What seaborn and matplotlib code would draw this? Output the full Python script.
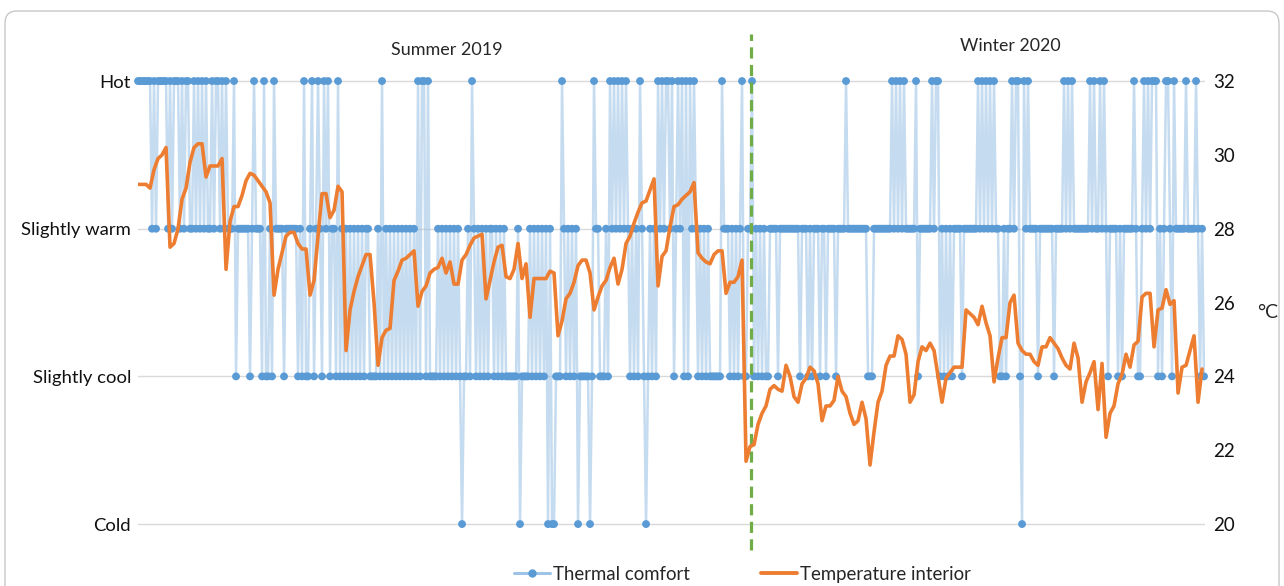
import numpy as np
import pandas as pd
import matplotlib
matplotlib.use("Agg")
import matplotlib.pyplot as plt
from matplotlib.lines import Line2D
from matplotlib.patches import FancyBboxPatch
import seaborn as sns

# Thermal comfort vote per sample: H = Hot, W = Slightly warm, C = Slightly cool, X = Cold
comfort_codes = (
    "HHHHH" "HHWHW" "HHHHH" "WHWHH" "HWHWH" "HWWHW" "HWHWH" "WWHWH" "HWHWH" "WWWHC"
    "WWWWW" "WCWHW" "WWCHC" "CWCHW" "WWWCW" "WWWWW" "CWCHC" "CWHCW" "HWCHW" "HCWWC"
    "HCWCW" "CWCWC" "WCWCW" "WCCCC" "WCHCW" "CWCWC" "WCWCW" "CWCWC" "HCHHC" "HCCCC"
    "WCWCW" "CWCWC" "WCXCC" "WCHWC" "WCWCW" "CWWCW" "CWCWC" "CCCCC" "WXCCC" "CWCWC"
    "WCWCW" "XWXXC" "CCHWC" "WCWCW" "XCCCC" "CXCHW" "WCCCW" "CHWHW" "HWHWH" "WCWCW"
    "CHWCX" "CWCWC" "HWHWH" "HWHCW" "HWHCH" "CHWHW" "CWCWC" "WCCCC" "CCHWW" "WCWCW"
    "CWHCC" "WWHCW" "CWCWC" "CWWWW" "CWWWW" "WWWWW" "WCWWW" "CWCWW" "WCWWC" "WWWWC"
    "WWWWH" "WWWWW" "WWWWW" "CCCWW" "WWWWW" "WWHWH" "WHWHW" "WWWWH" "CWWWW" "WWHWH"
    "HCWCW" "CWCWW" "WWCWW" "WWWWW" "HWHWH" "WHWHW" "WCCWC" "WWHWH" "HCXHW" "HWWWW"
    "CWWWW" "WWWCW" "WWWHW" "HWHWW" "WWWWW" "WHWHW" "WHWHW" "CWWWW" "CWCWW" "WWWHW"
    "CCWHW" "HWHHH" "CWCWH" "HWCHW" "WWWWH" "WWWWH" "WCWC"
)
comfort_levels = {"X": 0, "C": 1, "W": 2, "H": 3}
comfort_labels = ["Cold", "Slightly cool", "Slightly warm", "Hot"]

# Interior temperature (°C), logged at every second comfort sample
temperature = [
    29.2, 29.2, 29.2, 29.1, 29.6, 29.9, 30.0, 30.2, 27.5, 27.6,
    28.0, 28.8, 29.1, 29.8, 30.2, 30.3, 30.3, 29.4, 29.7, 29.7,
    29.7, 29.9, 26.9, 28.2, 28.6, 28.6, 28.9, 29.3, 29.5, 29.45,
    29.3, 29.15, 29.0, 28.7, 26.2, 26.9, 27.35, 27.8, 27.9, 27.9,
    27.6, 27.45, 27.45, 26.2, 26.6, 27.8, 28.95, 28.95, 28.3, 28.5,
    29.15, 29.0, 24.7, 25.8, 26.3, 26.7, 27.0, 27.3, 27.3, 26.0,
    24.3, 25.05, 25.25, 25.3, 26.6, 26.85, 27.15, 27.2, 27.3, 27.4,
    25.9, 26.3, 26.45, 26.8, 26.9, 26.95, 27.2, 26.8, 27.1, 26.5,
    26.5, 27.15, 27.3, 27.55, 27.75, 27.8, 27.85, 26.1, 26.6, 27.1,
    27.5, 27.55, 26.7, 26.65, 26.9, 27.6, 26.65, 27.05, 25.6, 26.65,
    26.65, 26.65, 26.65, 26.85, 26.8, 25.1, 25.5, 26.1, 26.25, 26.55,
    27.0, 27.15, 27.15, 26.8, 25.8, 26.15, 26.45, 26.6, 26.95, 27.2,
    26.5, 26.9, 27.6, 27.8, 28.15, 28.45, 28.7, 28.75, 29.05, 29.35,
    26.45, 27.25, 27.4, 28.05, 28.6, 28.65, 28.8, 28.9, 29.0, 29.25,
    27.35, 27.2, 27.1, 27.05, 27.3, 27.4, 27.4, 26.25, 26.55, 26.55,
    26.7, 27.15, 21.7, 22.1, 22.15, 22.7, 23.0, 23.2, 23.65, 23.75,
    23.65, 23.6, 24.3, 24.0, 23.45, 23.3, 23.8, 23.95, 24.25, 24.15,
    23.8, 22.8, 23.2, 23.2, 23.35, 24.0, 23.6, 23.45, 23.0, 22.7,
    22.8, 23.3, 22.85, 21.6, 22.5, 23.3, 23.6, 24.3, 24.55, 24.55,
    25.1, 25.0, 24.6, 23.3, 23.5, 24.4, 24.8, 24.7, 24.9, 24.7,
    24.0, 23.3, 23.95, 24.1, 24.25, 24.25, 24.25, 25.8, 25.7, 25.6,
    25.4, 25.9, 25.45, 25.1, 23.85, 24.5, 25.05, 25.05, 26.0, 26.2,
    24.9, 24.7, 24.6, 24.6, 24.4, 24.3, 24.8, 24.8, 25.05, 24.9,
    24.75, 24.5, 24.3, 24.2, 24.9, 24.5, 23.3, 23.85, 24.1, 24.4,
    23.1, 24.35, 22.35, 23.0, 23.2, 23.8, 24.05, 24.6, 24.25, 24.85,
    24.95, 26.15, 26.25, 26.25, 24.8, 25.8, 25.85, 26.35, 25.95, 26.05,
    23.55, 24.25, 24.3, 24.7, 25.1, 23.3, 24.2,
]
temp_ticks = [20, 22, 24, 26, 28, 30, 32]

season_labels = ["Summer 2019", "Winter 2020"]
season_break = 306.5  # sample where winter measurements start

comfort_df = pd.DataFrame({
    "sample": np.arange(len(comfort_codes)),
    "comfort": [comfort_levels[c] for c in comfort_codes],
})
temp_df = pd.DataFrame({
    "sample": np.arange(0, 2 * len(temperature), 2),
    "temp": temperature,
})

sns.set_style("white")
plt.rcParams["font.family"] = ["Lato", "DejaVu Sans"]

fig = plt.figure(figsize=(12.84, 5.86), dpi=100)
ax = fig.add_axes([0.1075, 0.0742, 0.831, 0.819])
ax2 = ax.twinx()

# thermal comfort: pale connecting line + dots
sns.lineplot(data=comfort_df, x="sample", y="comfort", ax=ax, color="#9dc3e6",
             alpha=0.6, lw=1.8, estimator=None, zorder=2)
sns.scatterplot(data=comfort_df, x="sample", y="comfort", ax=ax, color="#5b9bd5",
                s=32, edgecolor="none", zorder=3, clip_on=False)

# interior temperature
sns.lineplot(data=temp_df, x="sample", y="temp", ax=ax2, color="#ed7d31",
             lw=2.6, estimator=None)

ax.set_xlim(0, len(comfort_codes) - 0.5)
ax.set_ylim(-0.125, 3.125)
ax2.set_ylim(19.5, 32.5)

ax.set_yticks(range(4))
ax.set_yticklabels(comfort_labels)
ax2.set_yticks(temp_ticks)
ax.yaxis.grid(True, color="#d9d9d9", lw=1)
ax.set_axisbelow(True)

for a in (ax, ax2):
    a.set_xlabel("")
    a.set_ylabel("")
    a.set_xticks([])
    for s in a.spines.values():
        s.set_visible(False)
ax.tick_params(axis="y", length=0, pad=5, labelsize=13.3, labelcolor="#111111")
ax2.tick_params(axis="y", length=0, pad=6, labelsize=13.5, labelcolor="#111111")

# season divider
ax.axvline(season_break, ymin=-0.016, ymax=1.06, clip_on=False, color="#70ad47",
           lw=2.3, linestyle=(0, (3.5, 2)), zorder=4)

fig.text(0.348, 0.915, season_labels[0], ha="center", va="center", fontsize=13)
fig.text(0.787, 0.921, season_labels[1], ha="center", va="center", fontsize=12.8)
fig.text(0.9875, 0.466, "°C", ha="center", va="center", fontsize=14)

handles = [
    Line2D([], [], color="#9dc3e6", lw=2.2, marker="o", markersize=5,
           markerfacecolor="#5b9bd5", markeredgecolor="#5b9bd5"),
    Line2D([], [], color="#ed7d31", lw=2.8),
]
fig.legend(handles, ["Thermal comfort", "Temperature interior"], loc="center",
           bbox_to_anchor=(0.578, 0.02), ncol=2, frameon=False, fontsize=13.4,
           handlelength=1.95, columnspacing=3.8, handletextpad=0.15)

# rounded frame around the figure
frame = FancyBboxPatch((0.05, -0.5), 12.74, 6.25, boxstyle="round,pad=0,rounding_size=0.12",
                       transform=fig.dpi_scale_trans, fill=False, edgecolor="#c8c8c8", lw=1)
fig.patches.append(frame)

fig.savefig("out.png", dpi=100)
